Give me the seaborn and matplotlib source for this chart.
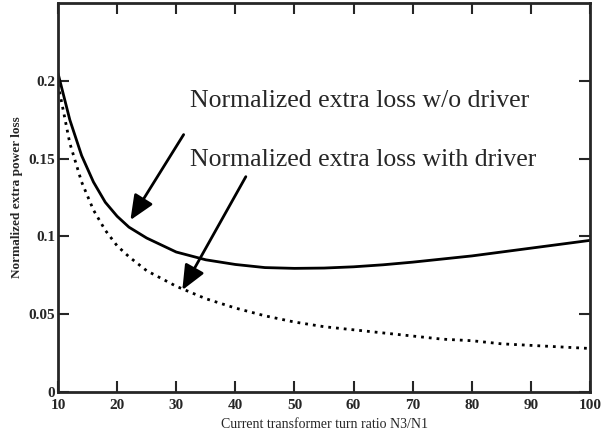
import pandas as pd
import matplotlib.pyplot as plt
import seaborn as sns

# === Data Setup ===
turn_ratio = [10, 12, 14, 16, 18, 20, 22, 25, 30, 35, 40, 45, 50, 55, 60,
              65, 70, 75, 80, 85, 90, 95, 100]
loss_wo_driver = [0.205, 0.175, 0.152, 0.135, 0.122, 0.113, 0.106, 0.099, 0.090,
                  0.085, 0.082, 0.080, 0.0795, 0.0797, 0.0805, 0.0818, 0.0835,
                  0.0855, 0.0875, 0.090, 0.0925, 0.095, 0.0975]
loss_with_driver = [0.198, 0.160, 0.135, 0.117, 0.104, 0.094, 0.087, 0.078, 0.068,
                    0.060, 0.054, 0.049, 0.045, 0.042, 0.040, 0.038, 0.036,
                    0.034, 0.033, 0.031, 0.030, 0.029, 0.028]

df = pd.DataFrame({'ratio': turn_ratio, 'wo': loss_wo_driver, 'with': loss_with_driver})

sns.set_style('ticks')
plt.rcParams['font.family'] = ['Liberation Serif', 'DejaVu Serif']

fig = plt.figure(figsize=(6.02, 4.42), dpi=100)
ax = fig.add_axes([0.0963, 0.113, 0.884, 0.88])

sns.lineplot(data=df, x='ratio', y='wo', ax=ax, color='black', linewidth=2.0)
sns.lineplot(data=df, x='ratio', y='with', ax=ax, color='black', linewidth=2.0,
             linestyle=(0, (1, 1.8)))

ax.set_xlim(10, 100)
ax.set_ylim(0, 0.25)
ax.set_xticks(range(10, 101, 10))
ax.set_yticks([0, 0.05, 0.1, 0.15, 0.2])
ax.set_yticklabels(['0', '0.05', '0.1', '0.15', '0.2'])
ax.tick_params(direction='in', length=8, width=1.5, top=True, right=True,
               labelsize=11, pad=5)
ax.tick_params(axis='y', pad=2)
for lab in ax.get_xticklabels() + ax.get_yticklabels():
    lab.set_fontweight('bold')
for sp in ax.spines.values():
    sp.set_linewidth(2)
    sp.set_visible(True)

ax.set_xlabel('Current transformer turn ratio N3/N1', fontsize=10, labelpad=4)
ax.set_ylabel('Normalized extra power loss', fontsize=9.5, fontweight='bold')

# === Annotations ===
ax.text(32.3, 0.187, 'Normalized extra loss w/o driver', fontsize=18.5, va='center')
ax.text(32.3, 0.149, 'Normalized extra loss with driver', fontsize=18.5, va='center')
ax.annotate('', xy=(22, 0.109), xytext=(31.5, 0.167),
            arrowprops=dict(arrowstyle='-|>,head_length=1.5,head_width=0.65',
                            color='black', lw=2))
ax.annotate('', xy=(30.8, 0.064), xytext=(42, 0.140),
            arrowprops=dict(arrowstyle='-|>,head_length=1.5,head_width=0.65',
                            color='black', lw=2))

plt.savefig('out.png', dpi=100)
